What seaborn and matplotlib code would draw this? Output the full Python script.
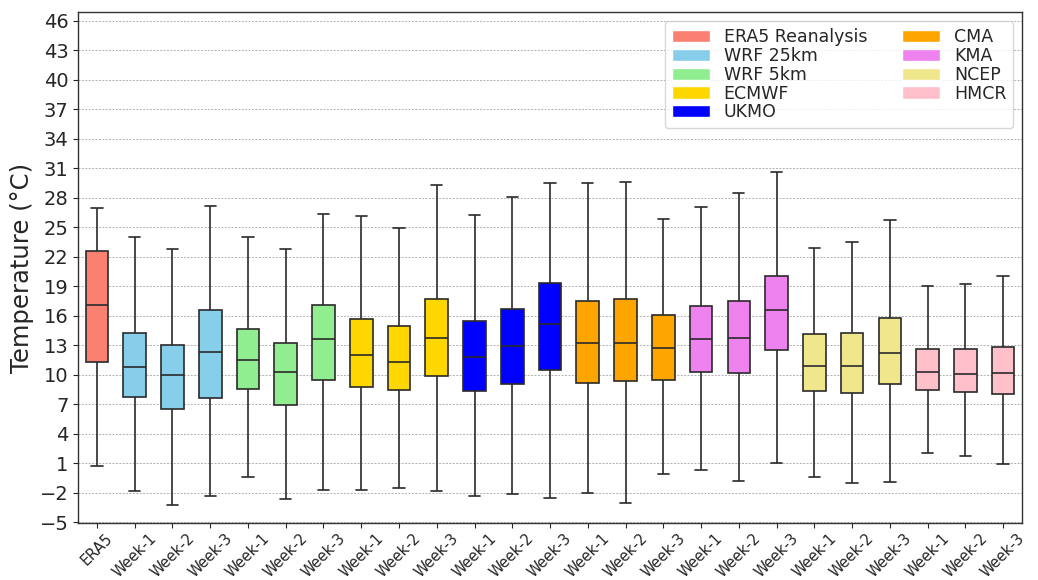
import numpy as np
import pandas as pd
import matplotlib
matplotlib.use("Agg")
import matplotlib.pyplot as plt
from matplotlib.patches import Patch
import seaborn as sns

# ---- data (five-number summaries) ----
models = ["ERA5 Reanalysis", "WRF 25km", "WRF 5km", "ECMWF", "UKMO",
          "CMA", "KMA", "NCEP", "HMCR"]
colors = ["#FA8072", "#87CEEB", "#90EE90", "#FFD700", "#0000FF",
          "#FFA500", "#EE82EE", "#F0E68C", "#FFC0CB"]
box_model = ["ERA5 Reanalysis"] + [m for m in models[1:] for _ in range(3)]
tick_labels = ["ERA5"] + ["Week-1", "Week-2", "Week-3"] * 8

whisk_low = [0.7,
             -1.85, -3.25, -2.3,
             -0.4, -2.6, -1.7,
             -1.7, -1.5, -1.85,
             -2.3, -2.1, -2.55,
             -2.0, -3.05, -0.1,
             0.3, -0.75, 1.05,
             -0.35, -0.95, -0.85,
             2.1, 1.8, 0.9]
q1 = [11.3,
      7.8, 6.5, 7.7,
      8.6, 6.9, 9.5,
      8.75, 8.5, 9.9,
      8.4, 9.1, 10.5,
      9.15, 9.4, 9.5,
      10.3, 10.2, 12.5,
      8.35, 8.2, 9.1,
      8.45, 8.3, 8.1]
median = [17.1,
          10.8, 10.0, 12.3,
          11.5, 10.3, 13.6,
          12.0, 11.35, 13.8,
          11.8, 12.95, 15.2,
          13.2, 13.2, 12.7,
          13.6, 13.7, 16.6,
          10.9, 10.95, 12.25,
          10.25, 10.1, 10.15]
q3 = [22.6,
      14.3, 13.0, 16.6,
      14.7, 13.25, 17.1,
      15.7, 15.0, 17.7,
      15.5, 16.7, 19.3,
      17.5, 17.7, 16.1,
      17.0, 17.55, 20.05,
      14.15, 14.3, 15.75,
      12.65, 12.65, 12.85]
whisk_high = [27.0,
              24.0, 22.8, 27.2,
              24.0, 22.75, 26.4,
              26.1, 24.9, 29.3,
              26.2, 28.1, 29.5,
              29.5, 29.6, 25.8,
              27.1, 28.5, 30.6,
              22.85, 23.5, 25.75,
              19.0, 19.25, 20.0]

# ---- build long table (each box: its five-number summary) ----
ids = [f"{i:02d}" for i in range(len(tick_labels))]
rows = []
for i, bid in enumerate(ids):
    for v in (whisk_low[i], q1[i], median[i], q3[i], whisk_high[i]):
        rows.append({"box": bid, "val": v})
df = pd.DataFrame(rows)
model_color = dict(zip(models, colors))
palette = {bid: model_color[box_model[i]] for i, bid in enumerate(ids)}

sns.set_style("ticks")
plt.rcParams["font.family"] = ["DejaVu Sans"]

fig = plt.figure(figsize=(10.38, 5.8), dpi=100)
ax = fig.add_axes([0.0752, 0.0983, 0.9094, 0.8805])

sns.boxplot(data=df, x="box", y="val", hue="box", order=ids, hue_order=ids,
            palette=palette, legend=False, width=0.6, whis=np.inf,
            showfliers=False, saturation=1, linecolor="#2a2a2a",
            linewidth=1.2, ax=ax, zorder=3)

ax.set_xlim(-0.5, len(ids) - 0.5)
ax.set_ylim(-5.05, 46.85)
ax.set_yticks(np.arange(-5, 47, 3))
ax.tick_params(axis="y", labelsize=14)
ax.tick_params(axis="x", pad=2)
ax.set_xticks(range(len(ids)))
ax.set_xticklabels(tick_labels, rotation=45, fontsize=10.5)
ax.set_xlabel("")
ax.set_ylabel("Temperature (°C)", fontsize=17.5)
ax.yaxis.grid(True, linestyle=(0, (2, 1.5)), linewidth=0.7, color="#b0b0b0")
ax.set_axisbelow(True)
for s in ax.spines.values():
    s.set_color("#333333")
    s.set_linewidth(1.0)

handles = [Patch(facecolor=c, label=m) for m, c in zip(models, colors)]
ax.legend(handles=handles, loc="upper right", ncol=2, fontsize=12.5,
          labelspacing=0.05, handlelength=2.2, columnspacing=2.0,
          frameon=True)

fig.savefig("out.png", dpi=100)
